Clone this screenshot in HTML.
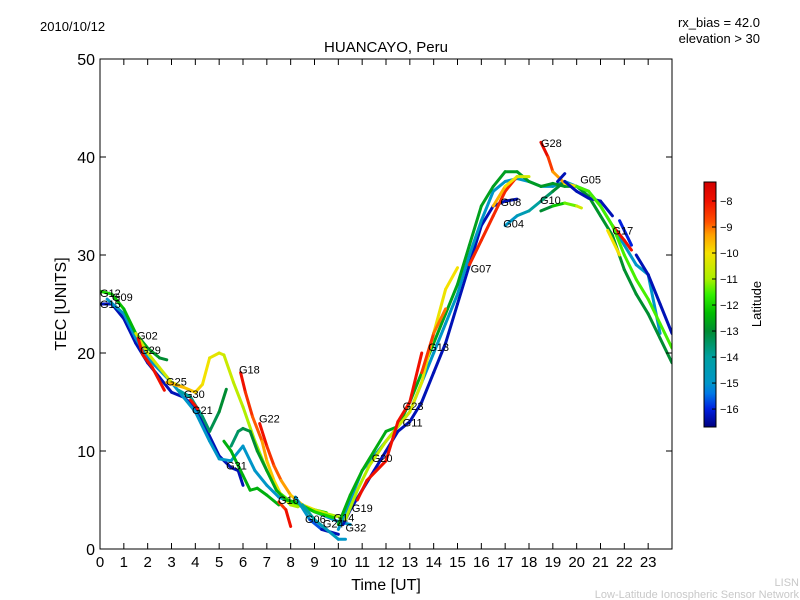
<!DOCTYPE html>
<html><head><meta charset="utf-8"><style>
body{margin:0;background:#fff;}
svg{display:block;font-family:"Liberation Sans","DejaVu Sans",sans-serif;}
</style></head><body>
<svg id="chart" width="800" height="600" xmlns="http://www.w3.org/2000/svg">
<defs>
<clipPath id="clip"><rect x="100" y="59" width="572" height="490"/></clipPath>
<linearGradient id="jet" x1="0" y1="1" x2="0" y2="0"></linearGradient>
</defs>
<rect x="0" y="0" width="800" height="600" fill="#fff"/>
<text x="40" y="31" font-size="13">2010/10/12</text>
<text x="760" y="27" font-size="13" text-anchor="end">rx_bias = 42.0</text>
<text x="760" y="43" font-size="13" text-anchor="end">elevation &gt; 30</text>
<text x="386" y="52" font-size="15" text-anchor="middle">HUANCAYO, Peru</text>
<g id="marks" clip-path="url(#clip)"></g>
<g id="labels"></g>
<rect x="100" y="59" width="572" height="490" fill="none" stroke="#000" stroke-width="1"/>
<g id="axes"></g>
<text x="0" y="0" font-size="16" text-anchor="middle" transform="translate(66,304) rotate(-90)">TEC [UNITS]</text>
<text x="386" y="590" font-size="16" text-anchor="middle">Time [UT]</text>
<rect x="704" y="182" width="12" height="245" fill="url(#jet)" stroke="#000" stroke-width="1"/>
<g id="cbticks"></g>
<text x="0" y="0" font-size="13" text-anchor="middle" transform="translate(761,304) rotate(-90)">Latitude</text>
<text x="799" y="586" font-size="11" fill="#c8c8c8" text-anchor="end">LISN</text>
<text x="799" y="598" font-size="11" fill="#c8c8c8" text-anchor="end">Low-Latitude Ionospheric Sensor Network</text>
</svg>
<script>
const xTicks=[0,1,2,3,4,5,6,7,8,9,10,11,12,13,14,15,16,17,18,19,20,21,22,23];
const yTicks=[0,10,20,30,40,50];
const cbTicks=[-8,-9,-10,-11,-12,-13,-14,-15,-16];
const latMin=-16.69, latMax=-7.27;
const cmapLat=[-16.69,-16.0,-15.4,-15.0,-14.0,-13.0,-12.3,-11.6,-11.0,-10.0,-9.3,-8.8,-8.0,-7.27];
const cmapCol=[[0,0,128],[0,32,224],[0,120,230],[0,150,200],[0,160,160],[0,140,50],[0,190,0],[50,240,0],[170,240,0],[245,225,0],[255,160,0],[255,80,0],[240,16,0],[210,0,0]];
const tracks=[
 {id:'g15',t:[0,0.5,1,1.5,2,2.5,3,3.5,4,4.5,5,5.5,5.8,6],v:[25,25,23.5,21,19,17.5,16,15.5,14.5,12,9.5,8.3,8,6.5],lat:[-16.3,-16.3]},
 {id:'g09',t:[0.3,1,1.5,2,3,4,4.6,5,5.5,6,6.5,7,7.5,8,9,10,10.5],v:[25.5,24,21.5,19.5,17,14,11,9.2,9,10.5,8,6.5,5.3,4.8,3.8,2.8,2.5],lat:[-15,-15]},
 {id:'g12',t:[0,0.5,1,1.5,2,2.5,2.8],v:[26.3,26,24.5,22,20.5,19.5,19.3],lat:[-12,-13]},
 {id:'g02',t:[1.5,2,2.5,3,3.5],v:[22,20,18.5,17,16.5],lat:[-10.5,-10.5]},
 {id:'g29',t:[1.6,1.8,2.2,2.7],v:[21.5,19.8,18.5,16.2],lat:[-8,-8]},
 {id:'g25',t:[2.8,3.5,4,4.3,4.6,5,5.2,5.6,6,6.5,7,7.5,8,8.5,9,9.5],v:[17,16.5,16,16.8,19.5,20,19.8,17,14.5,11,8,5.8,4.8,4.3,4,3.7],lat:[-9.5,-12]},
 {id:'g30',t:[3.3,3.8,4.3,4.6,5,5.3],v:[16.2,15.5,13.5,12,14,16.3],lat:[-14,-13]},
 {id:'g21',t:[3.8,4.1],v:[15.2,14.3],lat:[-8,-8]},
 {id:'g18',t:[5.9,6.1,6.4,6.8,7,7.3,7.6,8,8.3],v:[18,16,13.5,11,9,7,5.5,4.5,4.3],lat:[-8,-11]},
 {id:'g22',t:[6.7,7,7.3,7.6,8,8.5,9,9.5,10],v:[12.8,10.5,8.5,7,5.5,4.5,4,3.6,3.3],lat:[-8,-11]},
 {id:'g31a',t:[5.5,5.8,6,6.3,6.6,7,7.4,7.8,8.2,9,9.8],v:[10.5,12,12.3,12,10,8,6,5,4.8,3.8,3.2],lat:[-13.5,-12]},
 {id:'g31b',t:[5.2,5.5,6,6.3,6.6,7,7.5],v:[11,10,7.5,6,6.2,5.5,4.5],lat:[-12.5,-12.5]},
 {id:'g16',t:[7.5,7.8,8],v:[4.8,4,2.3],lat:[-8.5,-8]},
 {id:'g06',t:[8.2,8.8,9.3,10],v:[5.3,3,2,1.5],lat:[-15,-16.3]},
 {id:'g24',t:[8.5,9,9.5,10,10.3],v:[4.5,3,2,1,1],lat:[-14,-15]},
 {id:'rise-blue',t:[10.2,10.5,11,11.5,12,12.5,13,13.5,14,14.5,15,15.5,16,16.5,17,17.5],v:[2.5,4,6,8,10,12,13,15,18,21,25,29,33,35,35.5,35.7],lat:[-16.3,-16.3]},
 {id:'rise-cyan',t:[10,10.5,11,11.5,12,12.5,13,13.5,14,14.5,15,15.5,16,16.5,17,17.5,18,18.5,19,19.5,20,20.5,21,21.5,22,22.5,23,23.5],v:[2,5,8,9.5,11,12.5,14,17,20,23,26,30,33.5,36.5,37.5,37.8,37.5,37,37,37.5,37,36.5,35,33,31,29,28,22],lat:[-15,-15]},
 {id:'rise-green',t:[10,10.5,11,11.5,12,12.5,13,13.5,14,14.5,15,15.5,16,16.5,17,17.5,18,18.5,19,19.5,20,20.5,21,21.5,22,22.5,23,23.5,24],v:[2.5,5.5,8,10,12,12.5,15,18,21,24,27,31,35,37,38.5,38.5,37.5,37,37.3,37,37,36,34,32,28.5,26,24,21.5,19],lat:[-12.5,-13]},
 {id:'g13',t:[10.3,10.8,11.3,12,12.5,13,13.5,14,14.5,15],v:[3,6,8.5,11,12.5,14,17,22,26.5,28.7],lat:[-11,-10]},
 {id:'g19',t:[10.8,11.2,12,12.5,13,13.5],v:[5,7,9,13,15,20],lat:[-8,-8]},
 {id:'g13b',t:[13.5,14,14.5],v:[18,22,24.5],lat:[-8.5,-9]},
 {id:'g07',t:[15.5,16,16.5,17,17.5],v:[29,31.5,34,36.5,38],lat:[-8.3,-8.3]},
 {id:'g08y',t:[16.5,17,17.5,18],v:[35,37,38,38],lat:[-9.5,-10.5]},
 {id:'g04',t:[17,17.5,18,18.5,19,19.5],v:[33,34,34.5,35.5,36.5,37.5],lat:[-15,-13]},
 {id:'g10',t:[18.5,19,19.5,20,20.2],v:[34.5,35,35.3,35,34.8],lat:[-13,-10.5]},
 {id:'g28',t:[18.5,18.8,19,19.5,20],v:[41.5,40,38.5,37.3,37],lat:[-7.8,-10]},
 {id:'g05',t:[19.2,19.5],v:[37.5,38.3],lat:[-16.3,-16.3]},
 {id:'g05b',t:[19.5,20,20.5,21,21.5],v:[37.5,36.5,35.8,35.5,34],lat:[-16.3,-16.3]},
 {id:'g17r',t:[21.5,22,22.3],v:[33,31.5,30.5],lat:[-8,-8]},
 {id:'g17y',t:[21.3,21.8],v:[32.5,30],lat:[-10,-10]},
 {id:'g17b',t:[21.8,22.3],v:[33.5,31],lat:[-16,-16]},
 {id:'end-blue',t:[22.5,23,23.5,24],v:[30,28,25,22],lat:[-16.3,-16.3]},
 {id:'end-lime',t:[20,20.5,21,21.5,22,22.5,23,23.5,24],v:[37,36.5,35,33,30,27.5,25.5,23,20.5],lat:[-11.5,-11.5]}
];
const labelText=['G12','G09','G15','G02','G29','G25','G30','G21','G18','G22','G31','G16','G06','G24','G14','G32','G19','G20','G11','G23','G13','G07','G04','G08','G10','G28','G05','G17'];
const labelT=[0,0.5,0,1.55,1.68,2.77,3.52,3.86,5.83,6.67,5.29,7.47,8.6,9.35,9.8,10.3,10.57,11.4,12.7,12.7,13.77,15.55,16.92,16.8,18.46,18.5,20.15,21.5];
const labelV=[25.7,25.3,24.6,21.4,19.9,16.7,15.4,13.8,17.9,12.9,8.1,4.6,2.65,2.2,2.8,1.8,3.8,8.9,12.5,14.2,20.2,28.2,32.8,35,35.2,41,37.3,32.1];
const X=t=>100+t*572/24, Y=v=>549-v*9.8;
const CY=l=>427-(l-latMin)/(latMax-latMin)*245;
function cmap(l){
 l=Math.max(latMin,Math.min(latMax,l));
 let i=0; while(i<cmapLat.length-2 && l>cmapLat[i+1]) i++;
 const f=(l-cmapLat[i])/(cmapLat[i+1]-cmapLat[i]);
 const a=cmapCol[i],b=cmapCol[i+1];
 return `rgb(${Math.round(a[0]+(b[0]-a[0])*f)},${Math.round(a[1]+(b[1]-a[1])*f)},${Math.round(a[2]+(b[2]-a[2])*f)})`;
}
const NS='http://www.w3.org/2000/svg';
function mk(tag,attrs,parent){const e=document.createElementNS(NS,tag);for(const k in attrs)e.setAttribute(k,attrs[k]);parent.appendChild(e);return e;}
const grad=document.getElementById('jet');
cmapLat.forEach((l,i)=>{mk('stop',{offset:(l-latMin)/(latMax-latMin),'stop-color':`rgb(${cmapCol[i].join(',')})`},grad);});
const marks=document.getElementById('marks');
tracks.forEach(tr=>{
 const g=mk('g',{},marks);
 
 
 const n=tr.t.length;
 for(let i=0;i<n-1;i++){
  const lat=tr.lat[0]+(tr.lat[1]-tr.lat[0])*(i/(Math.max(1,n-2)));
  const s=mk('line',{x1:X(tr.t[i]),y1:Y(tr.v[i]),x2:X(tr.t[i+1]),y2:Y(tr.v[i+1]),stroke:cmap(lat),'stroke-width':3,'stroke-linecap':'round'},g);
  
  
 }
});
const lg=document.getElementById('labels');
labelText.forEach((s,i)=>{
 const e=mk('text',{x:X(labelT[i]),y:Y(labelV[i]),'font-size':11},lg);
 e.textContent=s;
 
 
});
const ax=document.getElementById('axes');
xTicks.forEach(t=>{
 mk('line',{x1:X(t),y1:549,x2:X(t),y2:543,stroke:'#000'},ax);
 mk('line',{x1:X(t),y1:59,x2:X(t),y2:65,stroke:'#000'},ax);
 const e=mk('text',{x:X(t),y:567,'font-size':15,'text-anchor':'middle'},ax);
 e.textContent=t;
 
 
});
yTicks.forEach(v=>{
 mk('line',{x1:100,y1:Y(v),x2:106,y2:Y(v),stroke:'#000'},ax);
 mk('line',{x1:672,y1:Y(v),x2:666,y2:Y(v),stroke:'#000'},ax);
 const e=mk('text',{x:95,y:Y(v)+6,'font-size':16,'text-anchor':'end'},ax);
 e.textContent=v;
 
 
});
const cb=document.getElementById('cbticks');
cbTicks.forEach(l=>{
 mk('line',{x1:712,y1:CY(l),x2:716,y2:CY(l),stroke:'#000'},cb);
 const e=mk('text',{x:720,y:CY(l)+4,'font-size':11},cb);
 e.textContent='\u2212'+Math.abs(l);
 
 
});
</script>
</body></html>
